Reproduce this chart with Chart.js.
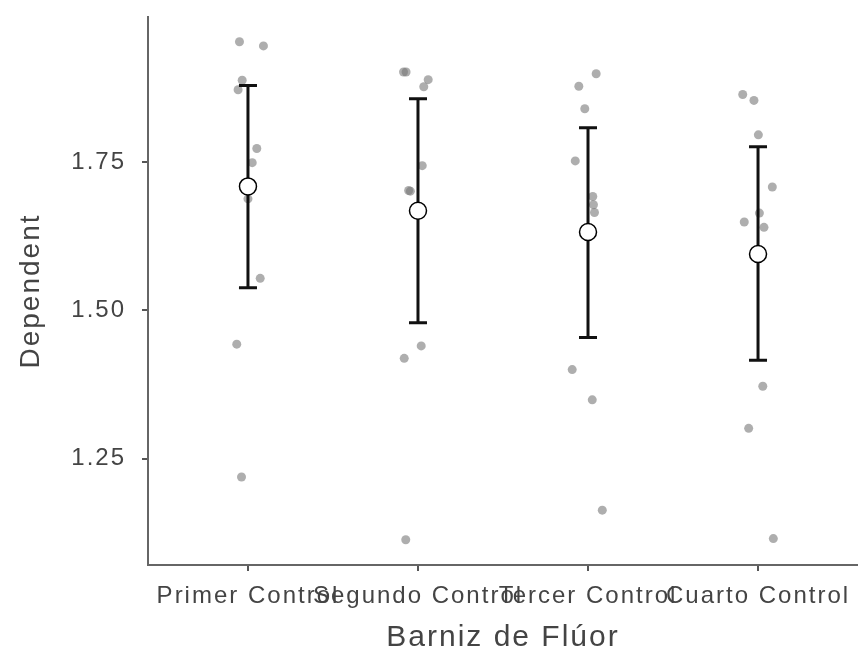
<!DOCTYPE html>
<html>
<head>
<meta charset="utf-8">
<script src="https://cdn.jsdelivr.net/npm/chart.js@4/dist/chart.umd.min.js"></script>
<style>
  html, body { margin: 0; padding: 0; background: #fff; }
  #wrap { width: 858px; height: 653px; }
</style>
</head>
<body>
<div id="wrap"><canvas id="c" width="858" height="653"></canvas></div>
<script>
// ---- data ----
const categories = ['Primer Control', 'Segundo Control', 'Tercer Control', 'Cuarto Control'];

const primerValues  = [1.953, 1.946, 1.888, 1.872, 1.773, 1.749, 1.688, 1.554, 1.443, 1.219];
const segundoValues = [1.902, 1.902, 1.889, 1.877, 1.744, 1.702, 1.701, 1.440, 1.419, 1.113];
const tercerValues  = [1.899, 1.878, 1.840, 1.752, 1.692, 1.678, 1.665, 1.400, 1.349, 1.163];
const cuartoValues  = [1.864, 1.854, 1.796, 1.708, 1.664, 1.649, 1.640, 1.372, 1.301, 1.115];

// horizontal jitter of each point (in category units)
const primerJitter  = [-0.050, 0.091, -0.034, -0.058, 0.052, 0.025, 0.000, 0.072, -0.066, -0.038];
const segundoJitter = [-0.085, -0.070, 0.060, 0.034, 0.025, -0.055, -0.045, 0.019, -0.081, -0.072];
const tercerJitter  = [0.048, -0.054, -0.019, -0.075, 0.028, 0.032, 0.038, -0.093, 0.025, 0.084];
const cuartoJitter  = [-0.090, -0.024, 0.002, 0.084, 0.008, -0.081, 0.035, 0.028, -0.055, 0.090];

const means   = [1.709, 1.668, 1.632, 1.595];
const ciLower = [1.538, 1.479, 1.454, 1.416];
const ciUpper = [1.879, 1.857, 1.808, 1.776];

const yTicks = [1.25, 1.50, 1.75];
const yMin = 1.0705, yMax = 1.9947;

// ---- build datasets ----
const groupValues = [primerValues, segundoValues, tercerValues, cuartoValues];
const groupJitter = [primerJitter, segundoJitter, tercerJitter, cuartoJitter];
const pointData = [];
groupValues.forEach((vals, g) => vals.forEach((v, j) => pointData.push({ x: g + groupJitter[g][j], y: v })));
const meanData = means.map((m, g) => ({ x: g, y: m }));

const FONT = '"Liberation Sans", Arial, Helvetica, sans-serif';

const spacingPlugin = {
  id: 'spacing',
  beforeUpdate(chart) { chart.ctx.letterSpacing = '2px'; },
  beforeDraw(chart) { chart.ctx.letterSpacing = '2px'; }
};

const errorBarPlugin = {
  id: 'errorBars',
  afterDatasetDraw(chart, args) {
    if (chart.data.datasets[args.index].label !== 'points') return;
    const ctx = chart.ctx, xs = chart.scales.x, ys = chart.scales.y;
    ctx.save();
    ctx.strokeStyle = '#111';
    ctx.lineWidth = 3;
    ctx.lineCap = 'butt';
    categories.forEach((c, g) => {
      const px = xs.getPixelForValue(g);
      const top = ys.getPixelForValue(ciUpper[g]);
      const bot = ys.getPixelForValue(ciLower[g]);
      ctx.beginPath();
      ctx.moveTo(px, top); ctx.lineTo(px, bot);
      ctx.moveTo(px - 9, top); ctx.lineTo(px + 9, top);
      ctx.moveTo(px - 9, bot); ctx.lineTo(px + 9, bot);
      ctx.stroke();
    });
    ctx.restore();
  }
};

new Chart(document.getElementById('c'), {
  type: 'scatter',
  data: {
    datasets: [
      {
        label: 'means',
        data: meanData,
        pointRadius: 8.5,
        pointBackgroundColor: '#ffffff',
        pointBorderColor: '#000000',
        pointBorderWidth: 1.5,
        clip: false
      },
      {
        label: 'points',
        data: pointData,
        pointRadius: 4.5,
        pointBackgroundColor: 'rgba(120,120,120,0.6)',
        pointBorderWidth: 0,
        clip: false
      }
    ]
  },
  options: {
    responsive: false,
    animation: false,
    devicePixelRatio: 1,
    layout: { autoPadding: false, padding: { top: 17, right: 0, bottom: 0, left: 0 } },
    plugins: { legend: { display: false }, tooltip: { enabled: false } },
    scales: {
      x: {
        type: 'linear',
        min: -0.588,
        max: 3.588,
        afterBuildTicks: s => { s.ticks = categories.map((c, i) => ({ value: i })); },
        afterFit: s => { s.height = 88; s.paddingLeft = 0; s.paddingRight = 0; },
        ticks: {
          callback: v => categories[v],
          autoSkip: false,
          maxRotation: 0,
          minRotation: 0,
          color: '#444',
          font: { family: FONT, size: 24 },
          padding: 11
        },
        grid: { drawOnChartArea: false, drawTicks: true, tickLength: 6, color: '#555', lineWidth: 2 },
        border: { display: true, color: '#666', width: 2 },
        title: {
          display: true,
          text: 'Barniz de Flúor',
          color: '#444',
          font: { family: FONT, size: 30 },
          padding: { top: 0, bottom: -3 }
        }
      },
      y: {
        min: yMin,
        max: yMax,
        afterBuildTicks: s => { s.ticks = yTicks.map(v => ({ value: v })); },
        afterFit: s => { s.width = 148; s.paddingTop = 0; s.paddingBottom = 0; },
        ticks: {
          callback: v => Number(v).toFixed(2),
          color: '#444',
          font: { family: FONT, size: 24 },
          padding: 16
        },
        grid: { drawOnChartArea: false, drawTicks: true, tickLength: 6, color: '#555', lineWidth: 2 },
        border: { display: true, color: '#666', width: 2 },
        title: {
          display: true,
          text: 'Dependent',
          color: '#444',
          font: { family: FONT, size: 28 },
          padding: { top: 14, bottom: 0 }
        }
      }
    }
  },
  plugins: [spacingPlugin, errorBarPlugin]
});
</script>
</body>
</html>
